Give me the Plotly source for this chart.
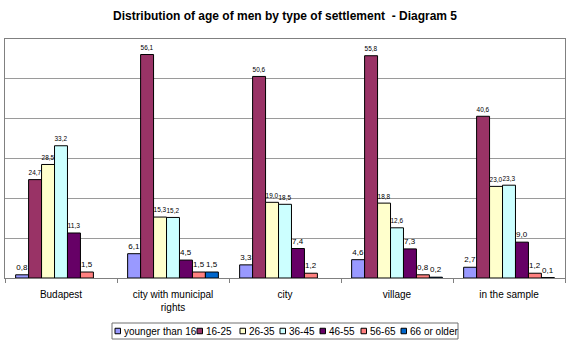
import plotly.graph_objects as go

categories = ["Budapest", "city with municipal<br>rights", "city", "village", "in the sample"]
series_names = ["younger than 16", "16-25", "26-35", "36-45", "46-55", "56-65", "66 or older"]
younger_16 = [0.8, 6.1, 3.3, 4.6, 2.7]
age_16_25 = [24.7, 56.1, 50.6, 55.8, 40.6]
age_26_35 = [28.5, 15.3, 19.0, 18.8, 23.0]
age_36_45 = [33.2, 15.2, 18.5, 12.6, 23.3]
age_46_55 = [11.3, 4.5, 7.4, 7.3, 9.0]
age_56_65 = [1.5, 1.5, 1.2, 0.8, 1.2]
age_66_plus = [None, 1.5, None, 0.2, 0.1]
colors = ["#9999FF", "#993366", "#FFFFCC", "#CCFFFF", "#660066", "#FF8080", "#0066CC"]

all_series = [younger_16, age_16_25, age_26_35, age_36_45, age_46_55, age_56_65, age_66_plus]

FONT = "Arial, Liberation Sans, sans-serif"

fig = go.Figure()
for name, vals, col in zip(series_names, all_series, colors):
    txt = ["" if v is None else f"{v:.1f}".replace(".", ",") for v in vals]
    fig.add_trace(go.Bar(
        x=categories, y=vals, name=name, text=txt,
        textposition="outside", textangle=0, cliponaxis=False,
        textfont=dict(size=8, color="#000000", family=FONT),
        marker=dict(color=col, line=dict(color="#000000", width=1)),
        showlegend=False,
    ))

# plot area in pixels: x 5..565, y 39..278
L, R, T, B = 5, 565, 39, 278
def px(x):
    return (x - L) / (R - L)
def py(y):
    return (B - y) / (B - T)

shapes = []
annotations = []
# legend box
shapes.append(dict(type="rect", xref="paper", yref="paper",
                   x0=px(112), x1=px(458), y0=py(323), y1=py(339),
                   line=dict(color="#707070", width=1), fillcolor="rgba(0,0,0,0)"))
sq_x = [115, 197, 240, 280, 320, 361, 401]
yc = 331
for name, col, sx in zip(series_names, colors, sq_x):
    shapes.append(dict(type="rect", xref="paper", yref="paper",
                       x0=px(sx), x1=px(sx + 5.5), y0=py(yc + 2.75), y1=py(yc - 2.75),
                       line=dict(color="#000000", width=1), fillcolor=col))
    annotations.append(dict(text=name, xref="paper", yref="paper",
                            x=px(sx + 7), y=py(yc), xanchor="left", yanchor="middle",
                            showarrow=False, font=dict(size=10, color="#000000", family=FONT)))

fig.update_layout(
    width=570, height=344,
    margin=dict(l=L, r=570 - R, t=T, b=344 - B),
    paper_bgcolor="#FFFFFF", plot_bgcolor="#FFFFFF",
    title=dict(text="<b>Distribution of age of men by type of settlement &nbsp;- Diagram 5</b>",
               x=0.5, xanchor="center", y=1 - 16 / 344, yanchor="middle",
               font=dict(size=12, color="#000000", family=FONT)),
    barmode="group", bargap=0.19, bargroupgap=0,
    showlegend=False,
    shapes=shapes, annotations=annotations,
    font=dict(family=FONT, color="#000000"),
)
fig.update_xaxes(showline=True, linecolor="#808080", linewidth=1, mirror=True,
                 ticks="outside", tickson="boundaries", ticklen=4, tickcolor="#808080",
                 tickfont=dict(size=10, color="#000000", family=FONT),
                 ticklabelstandoff=7, showgrid=False)
fig.update_yaxes(range=[0, 60], dtick=10, showticklabels=False, showgrid=True,
                 gridcolor="#9A9A9A", gridwidth=1, showline=True, linecolor="#808080",
                 mirror=True, zeroline=False, ticks="")

fig.write_html("out.html")
